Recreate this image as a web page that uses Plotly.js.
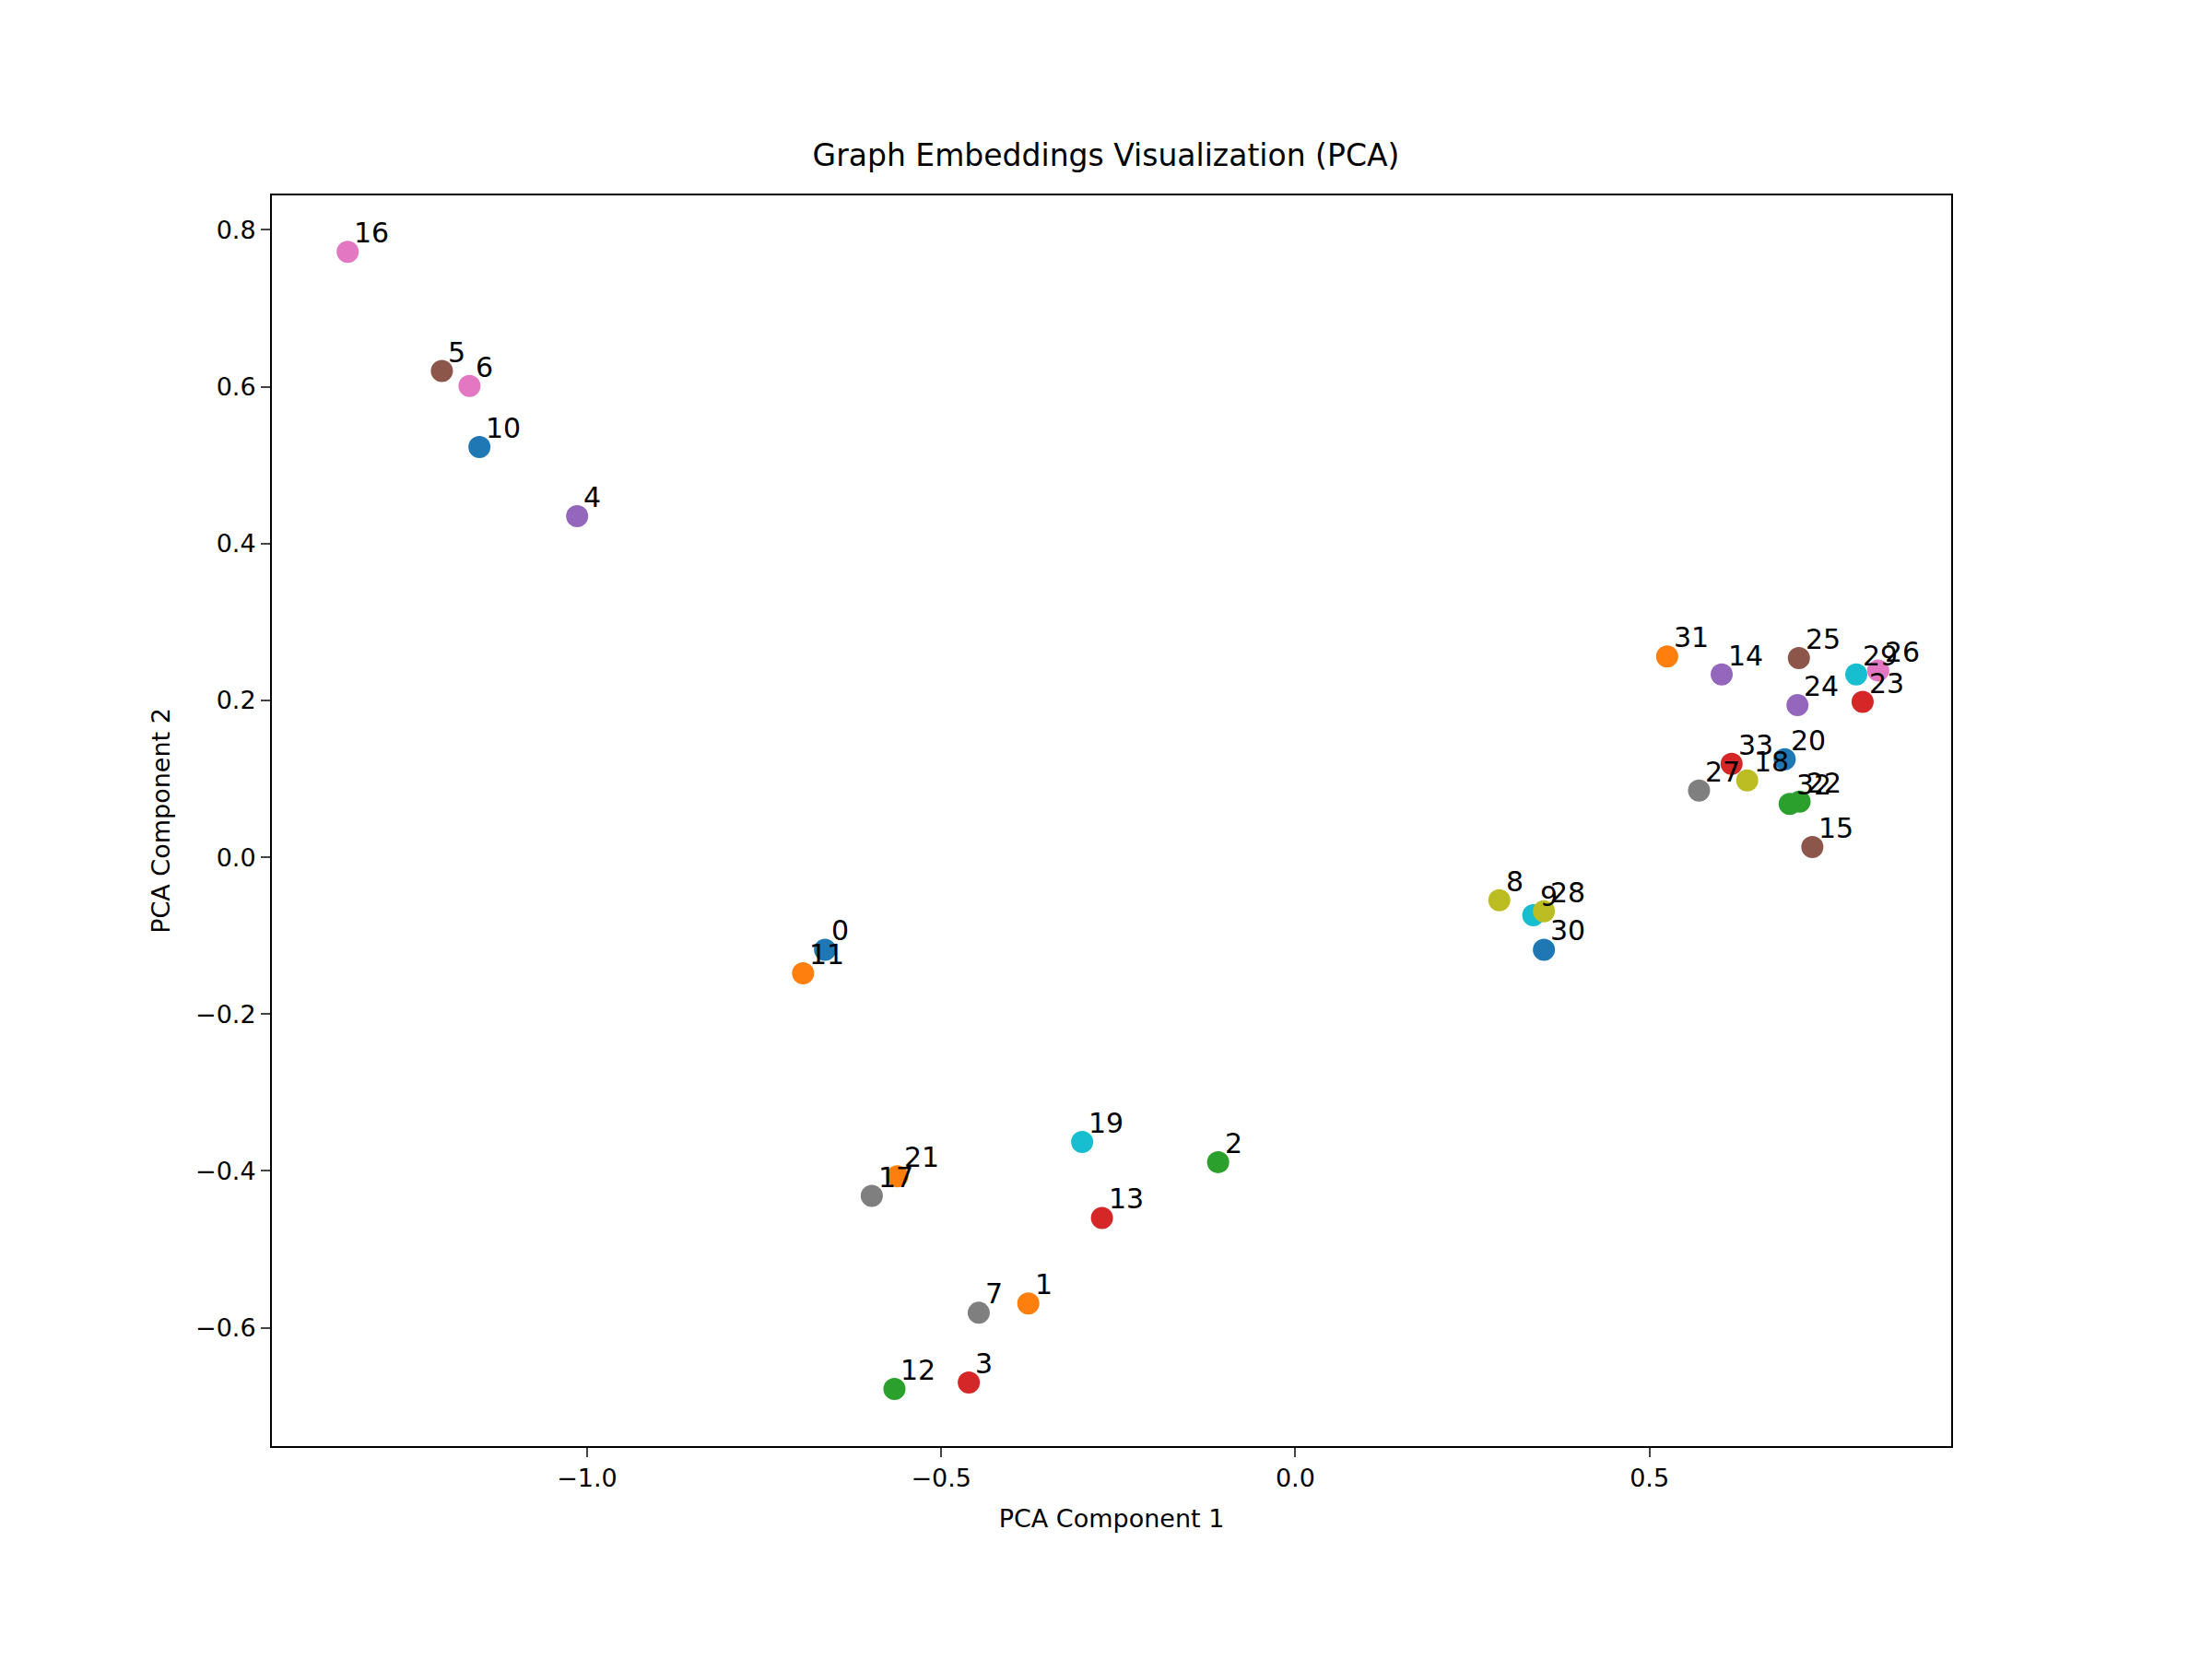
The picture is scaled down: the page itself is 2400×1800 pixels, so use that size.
<!DOCTYPE html>
<html>
<head>
<meta charset="utf-8">
<script src="https://cdn.plot.ly/plotly-3.0.1.min.js"></script>
<style>body{margin:0;background:#fff}</style>
</head>
<body>
<div id="chart" style="width:2400px;height:1800px"></div>
<script>
// node embeddings projected to 2D, node i at index i
const pc1 = [-0.664, -0.377, -0.109, -0.461, -1.014, -1.205, -1.166, -0.447, 0.288, 0.336,
  -1.152, -0.695, -0.566, -0.273, 0.602, 0.730, -1.338, -0.598, 0.638, -0.301,
  0.691, -0.562, 0.712, 0.801, 0.709, 0.711, 0.823, 0.570, 0.351, 0.792,
  0.351, 0.525, 0.698, 0.616];
const pc2 = [-0.118, -0.569, -0.389, -0.670, 0.435, 0.620, 0.601, -0.581, -0.055, -0.074,
  0.523, -0.148, -0.678, -0.460, 0.233, 0.013, 0.772, -0.432, 0.098, -0.363,
  0.125, -0.407, 0.071, 0.198, 0.194, 0.254, 0.238, 0.085, -0.069, 0.233,
  -0.118, 0.256, 0.068, 0.119];
const tab10 = ["#1f77b4", "#ff7f0e", "#2ca02c", "#d62728", "#9467bd",
  "#8c564b", "#e377c2", "#7f7f7f", "#bcbd22", "#17becf"];

const labels = pc1.map((v, i) => String(i));
const colors = pc1.map((v, i) => tab10[i % 10]);

const font = { family: "DejaVu Sans", size: 27, color: "#000" };

const trace = {
  x: pc1,
  y: pc2,
  mode: "markers",
  type: "scatter",
  marker: { size: 24, color: colors },
  hoverinfo: "none",
};

// labels like matplotlib annotate: small offset up-right of each point
const annotations = pc1.map((v, i) => ({
  x: v, y: pc2[i], text: labels[i],
  showarrow: false, xanchor: "left", yanchor: "bottom",
  xshift: 5, yshift: 1,
  font: { family: "DejaVu Sans", size: 30, color: "#000" },
}));

const axisCommon = {
  showgrid: false,
  zeroline: false,
  showline: true,
  mirror: true,
  linecolor: "#000",
  linewidth: 2,
  ticks: "outside",
  ticklen: 10,
  tickwidth: 2,
  tickfont: font,
};

const layout = {
  width: 2400,
  height: 1800,
  paper_bgcolor: "#fff",
  plot_bgcolor: "#fff",
  showlegend: false,
  font: font,
  annotations: annotations,
  margin: { l: 295, r: 283, t: 212, b: 231 },
  title: { text: "Graph Embeddings Visualization (PCA)", font: { family: "DejaVu Sans", size: 33 }, x: 0.5, xanchor: "center", y: 0.9, yanchor: "bottom" },
  xaxis: Object.assign({}, axisCommon, {
    range: [-1.445, 0.926],
    tickvals: [-1.0, -0.5, 0.0, 0.5],
    ticktext: ["\u22121.0", "\u22120.5", "0.0", "0.5"],
    title: { text: "PCA Component 1", font: font, standoff: 20 },
  }),
  yaxis: Object.assign({}, axisCommon, {
    range: [-0.751, 0.844],
    tickvals: [-0.6, -0.4, -0.2, 0.0, 0.2, 0.4, 0.6, 0.8],
    ticktext: ["\u22120.6", "\u22120.4", "\u22120.2", "0.0", "0.2", "0.4", "0.6", "0.8"],
    title: { text: "PCA Component 2", font: font, standoff: 20 },
  }),
};

Plotly.newPlot("chart", [trace], layout, { staticPlot: true, displayModeBar: false });
</script>
</body>
</html>
